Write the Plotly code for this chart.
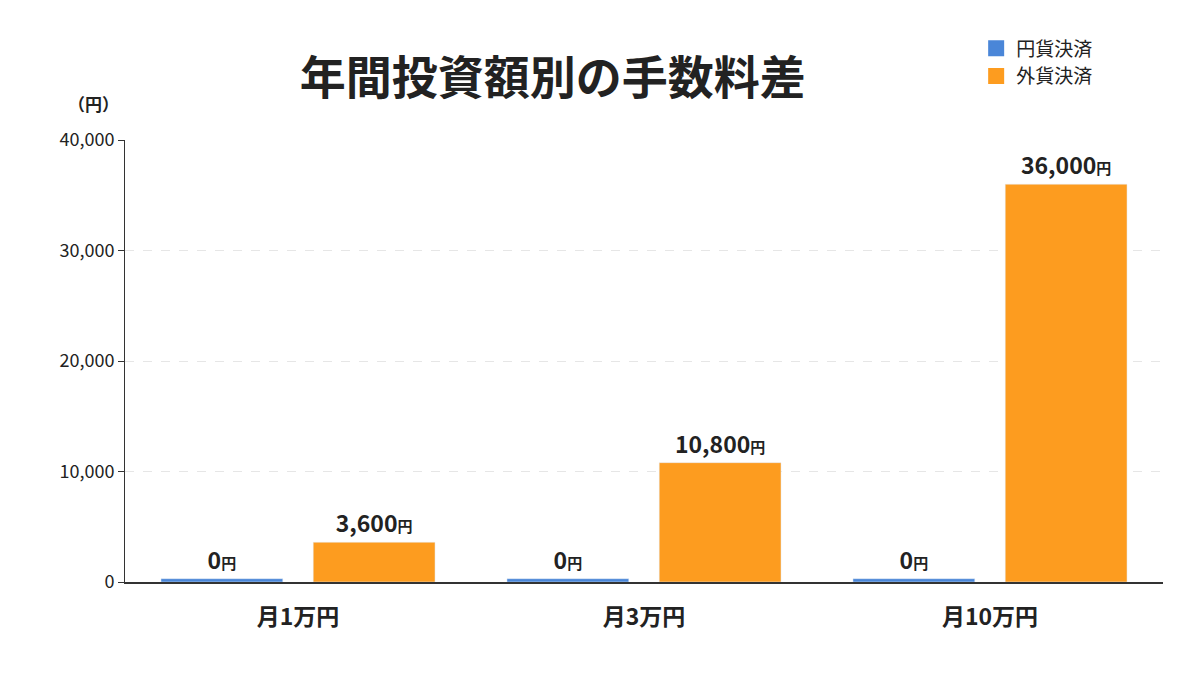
import plotly.graph_objects as go

categories = ["月1万円", "月3万円", "月10万円"]
yen_values = [0, 0, 0]
fx_values = [3600, 10800, 36000]
ticks = [0, 10000, 20000, 30000, 40000]
series_names = ["円貨決済", "外貨決済"]
colors = ["#4a86d8", "#fd9c1f"]

F = "Noto Sans CJK JP"
def lab(v):
    return [f"<b>{x:,}</b><span style='font-size:15px'><b>円</b></span>" for x in v]

# zero-valued bars drawn with a minimal visible height, label shows real value
yen_disp = [max(v, 300) for v in yen_values]

fig = go.Figure()
for name, ys, vals, c in [(series_names[0], yen_disp, yen_values, colors[0]),
                          (series_names[1], fx_values, fx_values, colors[1])]:
    fig.add_bar(name=name, x=categories, y=ys, marker_color=c, showlegend=False,
                text=lab(vals), textposition="outside", cliponaxis=False,
                textfont=dict(size=23, color="#222", family=F))
for name, c in zip(series_names, colors):
    fig.add_scatter(name=name, x=[None], y=[None], mode="markers",
                    marker=dict(symbol="square", size=26, color=c))

fig.update_layout(
    width=1200, height=675, barmode="group", bargap=0.12, bargroupgap=0.2,
    paper_bgcolor="white", plot_bgcolor="white",
    font=dict(family=F, color="#222"),
    margin=dict(l=117, r=45, t=132, b=101),
    title=dict(text="<b>年間投資額別の手数料差</b>", x=0.454, xanchor="center", y=0.92,
               font=dict(size=46, color="#222", family=F)),
    legend=dict(x=0.82, y=1.25, xanchor="left", yanchor="top", font=dict(size=19, family=F),
                bgcolor="rgba(0,0,0,0)", tracegroupgap=8),
    showlegend=True,
)
fig.update_yaxes(range=[0, 40000], tickvals=ticks, tickformat=",", showgrid=True,
                 gridcolor="#e6e6e6", griddash="dash", showline=True, linecolor="#333",
                 ticks="outside", ticklen=6, tickcolor="#333", tickfont=dict(size=18), zeroline=False)
fig.update_xaxes(showline=True, linecolor="#333", linewidth=1.5,
                 tickfont=dict(size=23, family=F, color="#222"),
                 ticks="outside", ticklen=14, tickcolor="rgba(0,0,0,0)",
                 ticktext=[f"<b>{c}</b>" for c in categories], tickvals=categories)
fig.add_annotation(text="<b>（円）</b>", x=-0.03, xref="paper", xanchor="center", y=1.05,
                   yref="paper", yanchor="bottom", showarrow=False, font=dict(size=17))
fig.write_html("out.html")
